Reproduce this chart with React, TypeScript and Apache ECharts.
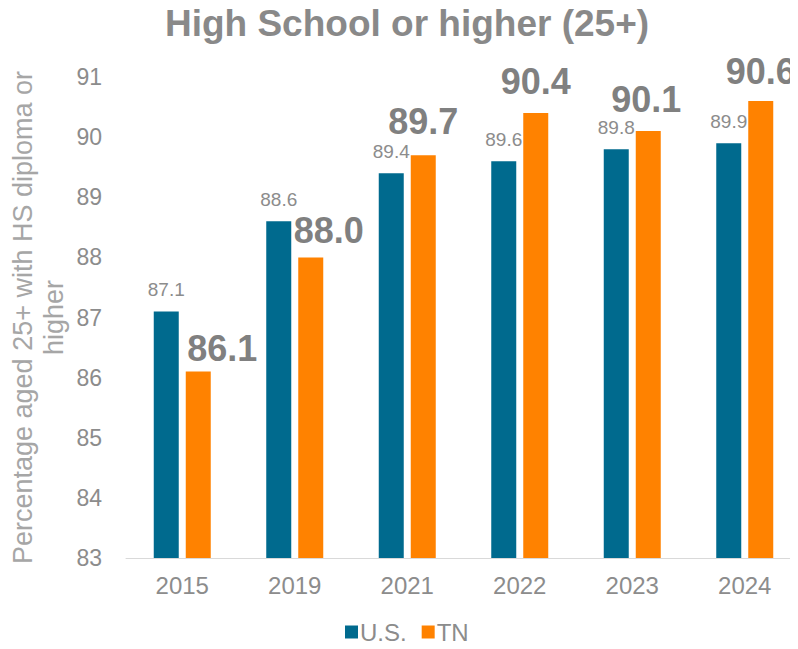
import React, { useEffect, useRef } from "react";
import * as echarts from "echarts";

const categories = ["2015", "2019", "2021", "2022", "2023", "2024"];
const usValues = [87.1, 88.6, 89.4, 89.6, 89.8, 89.9];
const tnValues = [86.1, 88.0, 89.7, 90.4, 90.1, 90.6];
const yTicks = { min: 83, max: 91, interval: 1 };

// label nudges (layout only)
const tnLabelNudge: [number, number][] = [
  [24, 9],
  [18, 5],
  [0, -2],
  [0, 0],
  [-2, 0],
  [0, 2],
];

const FONT = "Arial, 'Liberation Sans', Helvetica, sans-serif";

export default function App() {
  const ref = useRef<HTMLDivElement>(null);
  useEffect(() => {
    if (!ref.current) return;
    const chart = echarts.init(ref.current, undefined, { renderer: "svg" });
    chart.setOption({
      animation: false,
      textStyle: { fontFamily: FONT },
      title: {
        text: "High School or higher (25+)",
        left: 402,
        textAlign: "center",
        top: 0,
        textStyle: { fontSize: 37, fontWeight: "bold", color: "#898989", fontFamily: FONT },
      },
      legend: {
        bottom: 0,
        left: 340,
        itemWidth: 13,
        itemHeight: 13,
        itemGap: 15,
        icon: "rect",
        textStyle: { fontSize: 24, color: "#8c8c8c", fontFamily: FONT, padding: [0, 0, 0, -3] },
        data: ["U.S.", "TN"],
      },
      grid: { left: 126, right: -3, top: 77, bottom: 91, outerBoundsMode: "none", containLabel: false },
      xAxis: {
        type: "category",
        data: categories,
        axisLine: { lineStyle: { color: "#d9d9d9", width: 1 } },
        axisTick: { show: false },
        axisLabel: { fontSize: 24, color: "#8c8c8c", margin: 15, fontFamily: FONT },
      },
      yAxis: {
        type: "value",
        min: yTicks.min,
        max: yTicks.max,
        interval: yTicks.interval,
        splitLine: { show: false },
        axisLine: { show: false },
        axisTick: { show: false },
        axisLabel: { fontSize: 23, color: "#8c8c8c", margin: 24, fontFamily: FONT },
        name: "Percentage aged 25+ with HS diploma or\nhigher",
        nameLocation: "middle",
        nameGap: 57,
        nameMoveOverlap: false,
        nameTextStyle: { fontSize: 27, color: "#a6a6a6", lineHeight: 31, fontFamily: FONT },
      },
      series: [
        {
          name: "U.S.",
          type: "bar",
          data: usValues,
          barWidth: 25,
          barGap: "28%",
          itemStyle: { color: "#006A8E" },
          label: {
            show: true,
            position: "top",
            distance: 12,
            fontSize: 19,
            color: "#8c8c8c",
            fontFamily: FONT,
            formatter: (p: any) => p.value.toFixed(1),
          },
        },
        {
          name: "TN",
          type: "bar",
          data: tnValues.map((v, i) => ({
            value: v,
            label: { offset: tnLabelNudge[i] },
          })),
          barWidth: 25,
          itemStyle: { color: "#FF8200" },
          label: {
            show: true,
            position: "top",
            distance: 14,
            fontSize: 36,
            fontWeight: "bold",
            color: "#808080",
            fontFamily: FONT,
            formatter: (p: any) => p.value.toFixed(1),
          },
        },
      ],
    });
    return () => chart.dispose();
  }, []);
  return <div ref={ref} style={{ width: 798, height: 649, margin: -8 }} />;
}
